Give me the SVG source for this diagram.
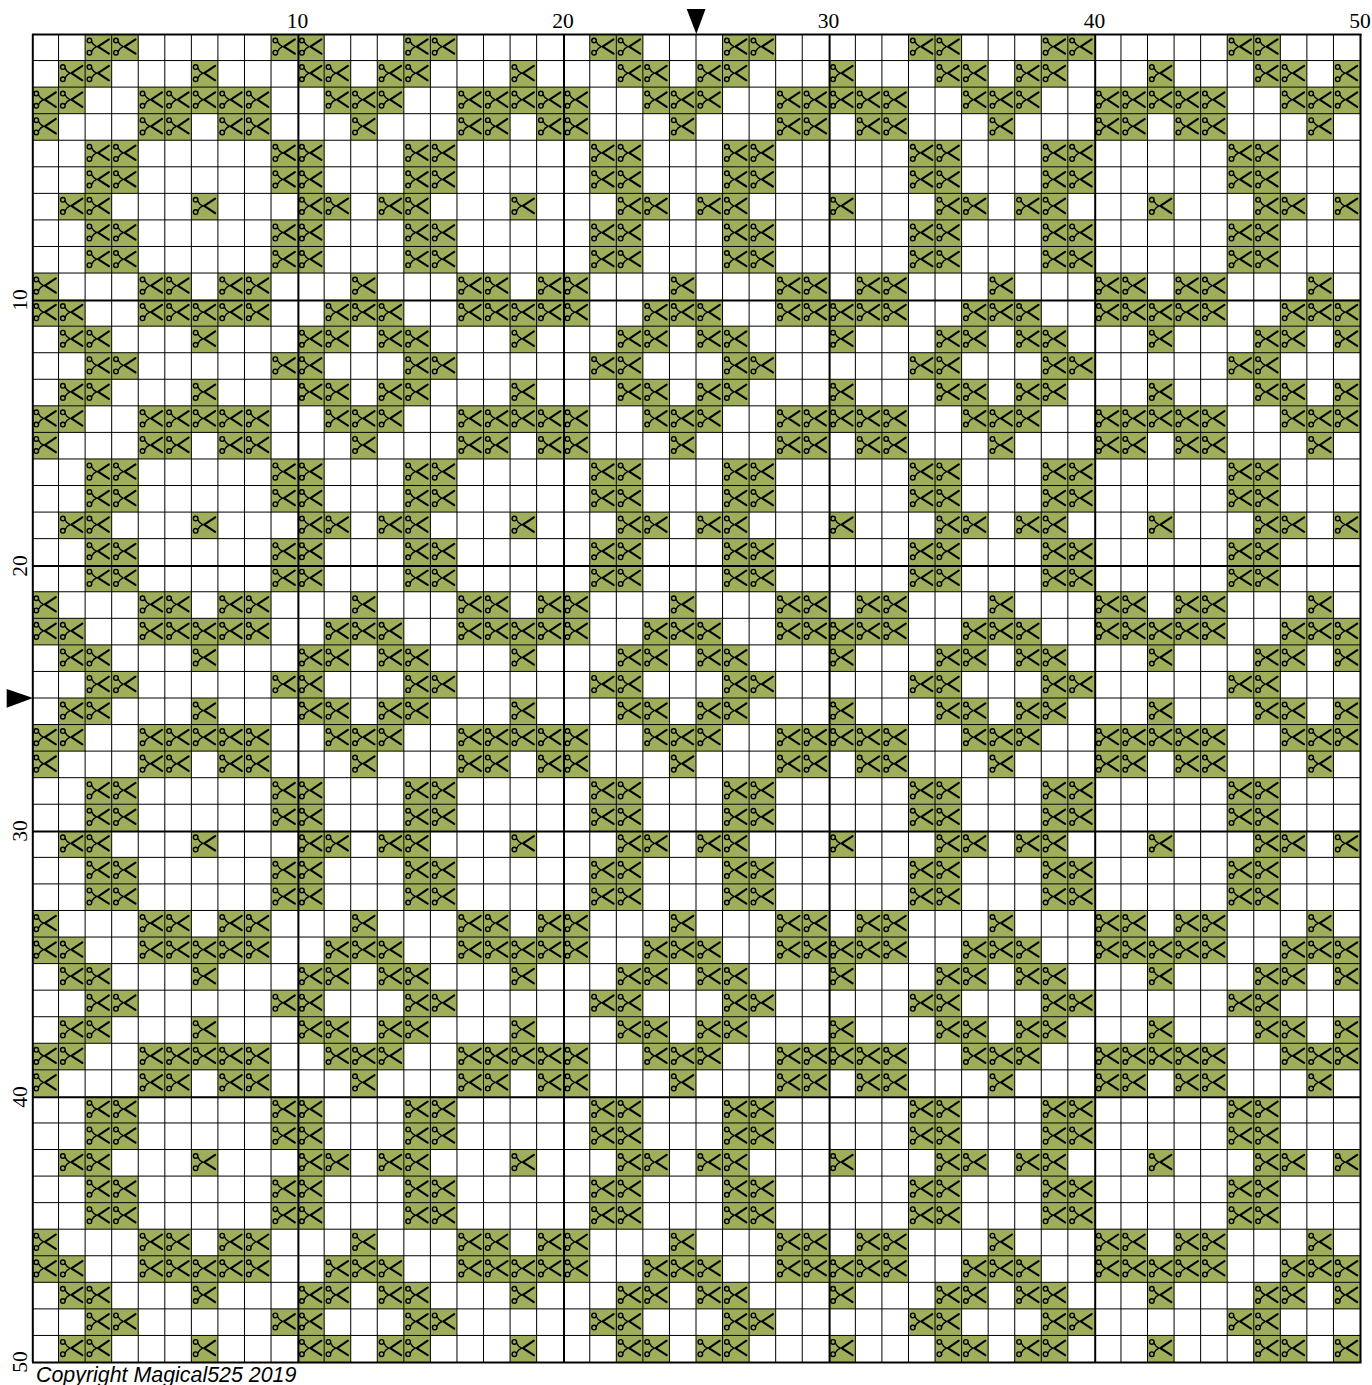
<svg xmlns="http://www.w3.org/2000/svg" width="1372" height="1385" viewBox="0 0 1372 1385">
<style>
.f{fill:#9eae5b}
.b{fill:none;stroke:#000;stroke-width:1.4;stroke-linecap:round}
.t{fill:none;stroke:#000;stroke-width:2.1;stroke-linecap:round;stroke-linejoin:round}
.g{fill:none;stroke:#000;stroke-width:1}
.h{fill:none;stroke:#000;stroke-width:2}
.n{font-family:"Liberation Serif",serif;font-size:21.5px;fill:#000;text-anchor:middle}
.c{font-family:"Liberation Sans",Arial,sans-serif;font-style:italic;font-size:21.4px;fill:#000}
</style>
<defs>
<g id="s"><rect class="f" width="26.56" height="26.56"/><circle class="b" cx="4.3" cy="6.5" r="2.3"/><circle class="b" cx="4.3" cy="18.7" r="2.3"/><path class="b" d="M6.4 7.6Q8.2 11.4 11.5 12.6M6.4 17.6Q8.2 13.8 11.5 12.6"/><path class="t" d="M23.8 5.3L12.8 12.6L23.8 19.7"/></g>
<g id="rA"><use href="#s" x="85.12"/><use href="#s" x="111.68"/><use href="#s" x="271.04"/><use href="#s" x="297.6"/><use href="#s" x="403.84"/><use href="#s" x="430.4"/><use href="#s" x="589.76"/><use href="#s" x="616.32"/><use href="#s" x="722.56"/><use href="#s" x="749.12"/><use href="#s" x="908.48"/><use href="#s" x="935.04"/><use href="#s" x="1041.28"/><use href="#s" x="1067.84"/><use href="#s" x="1227.2"/><use href="#s" x="1253.76"/></g>
<g id="rB"><use href="#s" x="58.56"/><use href="#s" x="85.12"/><use href="#s" x="191.36"/><use href="#s" x="297.6"/><use href="#s" x="324.16"/><use href="#s" x="377.28"/><use href="#s" x="403.84"/><use href="#s" x="510.08"/><use href="#s" x="616.32"/><use href="#s" x="642.88"/><use href="#s" x="696"/><use href="#s" x="722.56"/><use href="#s" x="828.8"/><use href="#s" x="935.04"/><use href="#s" x="961.6"/><use href="#s" x="1014.72"/><use href="#s" x="1041.28"/><use href="#s" x="1147.52"/><use href="#s" x="1253.76"/><use href="#s" x="1280.32"/><use href="#s" x="1333.44"/></g>
<g id="rC"><use href="#s" x="32"/><use href="#s" x="58.56"/><use href="#s" x="138.24"/><use href="#s" x="164.8"/><use href="#s" x="191.36"/><use href="#s" x="217.92"/><use href="#s" x="244.48"/><use href="#s" x="324.16"/><use href="#s" x="350.72"/><use href="#s" x="377.28"/><use href="#s" x="456.96"/><use href="#s" x="483.52"/><use href="#s" x="510.08"/><use href="#s" x="536.64"/><use href="#s" x="563.2"/><use href="#s" x="642.88"/><use href="#s" x="669.44"/><use href="#s" x="696"/><use href="#s" x="775.68"/><use href="#s" x="802.24"/><use href="#s" x="828.8"/><use href="#s" x="855.36"/><use href="#s" x="881.92"/><use href="#s" x="961.6"/><use href="#s" x="988.16"/><use href="#s" x="1014.72"/><use href="#s" x="1094.4"/><use href="#s" x="1120.96"/><use href="#s" x="1147.52"/><use href="#s" x="1174.08"/><use href="#s" x="1200.64"/><use href="#s" x="1280.32"/><use href="#s" x="1306.88"/><use href="#s" x="1333.44"/></g>
<g id="rD"><use href="#s" x="32"/><use href="#s" x="138.24"/><use href="#s" x="164.8"/><use href="#s" x="217.92"/><use href="#s" x="244.48"/><use href="#s" x="350.72"/><use href="#s" x="456.96"/><use href="#s" x="483.52"/><use href="#s" x="536.64"/><use href="#s" x="563.2"/><use href="#s" x="669.44"/><use href="#s" x="775.68"/><use href="#s" x="802.24"/><use href="#s" x="855.36"/><use href="#s" x="881.92"/><use href="#s" x="988.16"/><use href="#s" x="1094.4"/><use href="#s" x="1120.96"/><use href="#s" x="1174.08"/><use href="#s" x="1200.64"/><use href="#s" x="1306.88"/></g>
</defs>
<rect width="1372" height="1385" fill="#fff"/>
<g id="cells">
<use href="#rA" y="34"/><use href="#rB" y="60.56"/><use href="#rC" y="87.12"/><use href="#rD" y="113.68"/><use href="#rA" y="140.24"/><use href="#rA" y="166.8"/><use href="#rB" y="193.36"/><use href="#rA" y="219.92"/><use href="#rA" y="246.48"/><use href="#rD" y="273.04"/>
<use href="#rC" y="299.6"/><use href="#rB" y="326.16"/><use href="#rA" y="352.72"/><use href="#rB" y="379.28"/><use href="#rC" y="405.84"/><use href="#rD" y="432.4"/><use href="#rA" y="458.96"/><use href="#rA" y="485.52"/><use href="#rB" y="512.08"/><use href="#rA" y="538.64"/>
<use href="#rA" y="565.2"/><use href="#rD" y="591.76"/><use href="#rC" y="618.32"/><use href="#rB" y="644.88"/><use href="#rA" y="671.44"/><use href="#rB" y="698"/><use href="#rC" y="724.56"/><use href="#rD" y="751.12"/><use href="#rA" y="777.68"/><use href="#rA" y="804.24"/>
<use href="#rB" y="830.8"/><use href="#rA" y="857.36"/><use href="#rA" y="883.92"/><use href="#rD" y="910.48"/><use href="#rC" y="937.04"/><use href="#rB" y="963.6"/><use href="#rA" y="990.16"/><use href="#rB" y="1016.72"/><use href="#rC" y="1043.28"/><use href="#rD" y="1069.84"/>
<use href="#rA" y="1096.4"/><use href="#rA" y="1122.96"/><use href="#rB" y="1149.52"/><use href="#rA" y="1176.08"/><use href="#rA" y="1202.64"/><use href="#rD" y="1229.2"/><use href="#rC" y="1255.76"/><use href="#rB" y="1282.32"/><use href="#rA" y="1308.88"/><use href="#rB" y="1335.44"/>
</g>
<g id="grid">
<path class="g" d="M58.56 34V1362M85.12 34V1362M111.68 34V1362M138.24 34V1362M164.8 34V1362M191.36 34V1362M217.92 34V1362M244.48 34V1362M271.04 34V1362M324.16 34V1362M350.72 34V1362M377.28 34V1362M403.84 34V1362M430.4 34V1362M456.96 34V1362M483.52 34V1362M510.08 34V1362M536.64 34V1362M589.76 34V1362M616.32 34V1362M642.88 34V1362M669.44 34V1362M696 34V1362M722.56 34V1362M749.12 34V1362M775.68 34V1362M802.24 34V1362M855.36 34V1362M881.92 34V1362M908.48 34V1362M935.04 34V1362M961.6 34V1362M988.16 34V1362M1014.72 34V1362M1041.28 34V1362M1067.84 34V1362M1120.96 34V1362M1147.52 34V1362M1174.08 34V1362M1200.64 34V1362M1227.2 34V1362M1253.76 34V1362M1280.32 34V1362M1306.88 34V1362M1333.44 34V1362"/>
<path class="g" d="M32 60.56H1360M32 87.12H1360M32 113.68H1360M32 140.24H1360M32 166.8H1360M32 193.36H1360M32 219.92H1360M32 246.48H1360M32 273.04H1360M32 326.16H1360M32 352.72H1360M32 379.28H1360M32 405.84H1360M32 432.4H1360M32 458.96H1360M32 485.52H1360M32 512.08H1360M32 538.64H1360M32 591.76H1360M32 618.32H1360M32 644.88H1360M32 671.44H1360M32 698H1360M32 724.56H1360M32 751.12H1360M32 777.68H1360M32 804.24H1360M32 857.36H1360M32 883.92H1360M32 910.48H1360M32 937.04H1360M32 963.6H1360M32 990.16H1360M32 1016.72H1360M32 1043.28H1360M32 1069.84H1360M32 1122.96H1360M32 1149.52H1360M32 1176.08H1360M32 1202.64H1360M32 1229.2H1360M32 1255.76H1360M32 1282.32H1360M32 1308.88H1360M32 1335.44H1360"/>
<path class="h" d="M298.4 34V1362M564 34V1362M829.6 34V1362M1095.2 34V1362M32.8 34V1362M1360.5 34V1362"/>
<path class="h" d="M32 300.4H1360M32 566H1360M32 831.6H1360M32 1097.2H1360M32 34.4H1361.5M32 1362.5H1361.5"/>
</g>
<g id="markers">
<polygon points="686.7,9 705.5,9 696.3,34"/>
<polygon points="6.7,689 6.7,707.7 33,698"/>
</g>
<g id="labels">
<text class="n" x="297.5" y="28">10</text><text class="n" x="563" y="28">20</text><text class="n" x="828.5" y="28">30</text><text class="n" x="1094.5" y="28">40</text><text class="n" x="1360" y="28">50</text>
<text class="n" transform="translate(27 300) rotate(-90)">10</text><text class="n" transform="translate(27 566) rotate(-90)">20</text><text class="n" transform="translate(27 831) rotate(-90)">30</text><text class="n" transform="translate(27 1097) rotate(-90)">40</text><text class="n" transform="translate(27 1362) rotate(-90)">50</text>
<text class="c" x="36" y="1381.5">Copyright Magical525 2019</text>
</g>
</svg>
